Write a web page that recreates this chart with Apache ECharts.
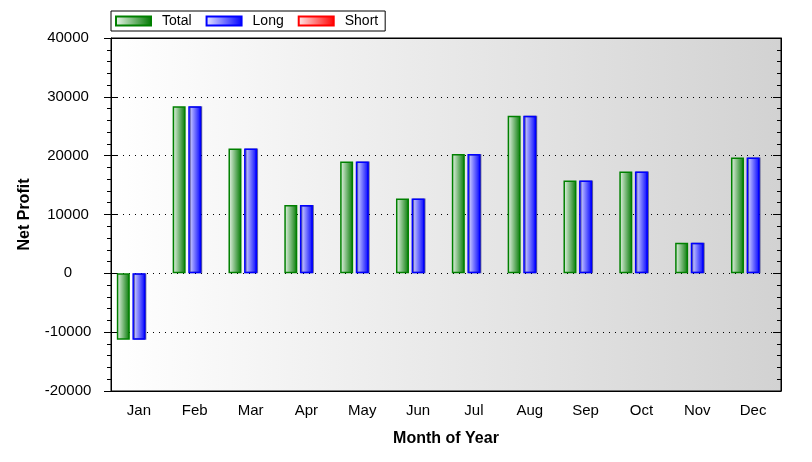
<!DOCTYPE html>
<html>
<head>
<meta charset="utf-8">
<script src="https://cdn.jsdelivr.net/npm/echarts@6/dist/echarts.min.js"></script>
<style>html,body{margin:0;padding:0;background:#fff;}#c{width:812px;height:462px;}</style>
</head>
<body>
<div id="c"></div>
<script>
var months = ['Jan','Feb','Mar','Apr','May','Jun','Jul','Aug','Sep','Oct','Nov','Dec'];
var totalVals = [-11300, 28400, 21200, 11600, 19000, 12700, 20300, 26800, 15800, 17300, 5200, 19700];
var longVals  = [-11300, 28400, 21200, 11600, 19000, 12700, 20300, 26800, 15800, 17300, 5200, 19700];
var shortVals = [null, null, null, null, null, null, null, null, null, null, null, null];
var yMin = -20000, yMax = 40000, yStep = 10000;

var FONT = "'Liberation Sans', Arial, sans-serif";
function grad(light, dark) {
  return new echarts.graphic.LinearGradient(0, 0, 1, 0, [
    {offset: 0, color: light}, {offset: 1, color: dark}
  ]);
}
var chart = echarts.init(document.getElementById('c'), null, {renderer: 'canvas'});
var yBase = {type: 'value', min: yMin, max: yMax, interval: yStep};
chart.setOption({
  animation: false,
  backgroundColor: '#ffffff',
  textStyle: {fontFamily: FONT},
  legend: {
    left: 111, top: 11,
    padding: [3, 7, 3, 4],
    icon: 'rect',
    itemWidth: 35, itemHeight: 9, itemGap: 14,
    borderColor: '#000', borderWidth: 1, backgroundColor: '#fff',
    textStyle: {fontFamily: FONT, fontSize: 14, color: '#000', padding: [0, 0, 0, 6]},
    data: ['Total', 'Long', 'Short']
  },
  grid: {
    left: 111, right: 31, top: 38, bottom: 71,
    show: true,
    borderColor: '#000', borderWidth: 1,
    backgroundColor: grad('#ffffff', '#d2d2d2')
  },
  xAxis: [
    {type: 'category', data: months, position: 'bottom',
     axisLine: {onZero: false, lineStyle: {color: '#000', width: 1}},
     axisTick: {alignWithLabel: true, inside: false, length: 6, lineStyle: {color: '#000'}},
     axisLabel: {color: '#000', fontSize: 15, fontFamily: FONT, margin: 12},
     name: 'Month of Year', nameLocation: 'middle', nameGap: 40,
     nameTextStyle: {fontWeight: 'bold', fontSize: 16, color: '#000', fontFamily: FONT}},
    {type: 'category', data: months, position: 'bottom',
     axisLine: {show: false, onZero: false},
     axisTick: {alignWithLabel: true, inside: true, length: 6, lineStyle: {color: '#000'}},
     axisLabel: {show: false}},
    {type: 'category', data: months, position: 'top',
     axisLine: {onZero: false, lineStyle: {color: '#000'}},
     axisTick: {alignWithLabel: true, inside: true, length: 5, lineStyle: {color: '#000'}},
     axisLabel: {show: false}}
  ],
  yAxis: [
    Object.assign({}, yBase, {position: 'left',
     axisLine: {show: true, onZero: false, lineStyle: {color: '#000'}},
     axisTick: {show: true, inside: false, length: 7, lineStyle: {color: '#000'}},
     minorTick: {show: true, splitNumber: 5, length: 4, lineStyle: {color: '#000'}},
     axisLabel: {color: '#000', fontSize: 15, fontFamily: FONT, align: 'center', margin: 43,
                 formatter: function (v) { return String(v); }},
     splitLine: {show: true, lineStyle: {color: '#000', type: [1, 5], width: 1}},
     name: 'Net Profit', nameLocation: 'middle', nameGap: 78, nameRotate: 90,
     nameTextStyle: {fontWeight: 'bold', fontSize: 16, color: '#000', fontFamily: FONT}}),
    Object.assign({}, yBase, {position: 'left',
     axisLine: {show: false, onZero: false},
     axisTick: {show: true, inside: true, length: 6, lineStyle: {color: '#000'}},
     minorTick: {show: false},
     axisLabel: {show: false}, splitLine: {show: false}}),
    Object.assign({}, yBase, {position: 'right',
     axisLine: {show: true, onZero: false, lineStyle: {color: '#000'}},
     axisTick: {show: true, inside: true, length: 8, lineStyle: {color: '#000'}},
     minorTick: {show: true, splitNumber: 5, length: 4, lineStyle: {color: '#000'}},
     axisLabel: {show: false}, splitLine: {show: false}})
  ],
  series: [
    {name: 'Total', type: 'bar', data: totalVals, barWidth: 13, barGap: '20%',
     itemStyle: {color: grad('#eef7ee', '#007800'), borderColor: '#008000', borderWidth: 1.5}},
    {name: 'Long', type: 'bar', data: longVals, barWidth: 13, barGap: '20%',
     itemStyle: {color: grad('#eaeaff', '#0000ff'), borderColor: '#0000ff', borderWidth: 1.5,
                 shadowColor: 'rgba(0,0,90,0.5)', shadowOffsetX: 1, shadowOffsetY: 0, shadowBlur: 0}},
    {name: 'Short', type: 'bar', data: shortVals, barWidth: 13, barGap: '20%',
     itemStyle: {color: grad('#ffecec', '#ff0000'), borderColor: '#ff0000', borderWidth: 1.5}}
  ]
});
</script>
</body>
</html>
